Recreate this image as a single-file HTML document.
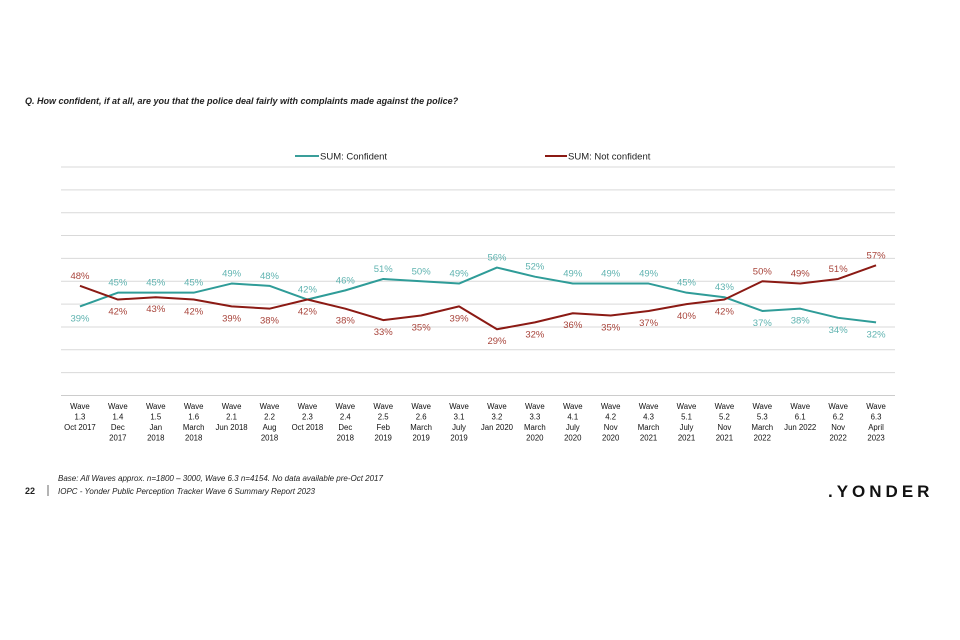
<!DOCTYPE html>
<html><head><meta charset="utf-8"><style>
body{margin:0;background:#fff;width:960px;height:640px;overflow:hidden;font-family:"Liberation Sans",Arial,sans-serif}
svg{position:absolute;left:0;top:0}
</style></head><body>
<svg width="960" height="640">
<text x="25" y="104" font-size="9" font-style="italic" font-weight="bold" fill="#222">Q. How confident, if at all, are you that the police deal fairly with complaints made against the police?</text>
<g>
<line x1="295" y1="156" x2="319" y2="156" stroke="#3a9e9a" stroke-width="2"/>
<text x="320" y="159.5" font-size="9.5" fill="#222">SUM: Confident</text>
<line x1="545" y1="156" x2="567" y2="156" stroke="#8b1a14" stroke-width="2"/>
<text x="568" y="159.5" font-size="9.5" fill="#222">SUM: Not confident</text>
</g>
<g id="grid"></g><g id="series"></g><g id="xlabels"></g>
<text x="58" y="481" font-size="8" font-style="italic" fill="#222">Base: All Waves approx. n=1800 – 3000, Wave 6.3 n=4154. No data available pre-Oct 2017</text>
<text x="25" y="494" font-size="9" font-weight="bold" fill="#222">22</text>
<line x1="48" y1="485" x2="48" y2="496" stroke="#444" stroke-width="0.8"/>
<text x="58" y="494" font-size="8" font-style="italic" fill="#222">IOPC - Yonder Public Perception Tracker Wave 6 Summary Report 2023</text>
<text x="828" y="497" font-size="17" font-weight="bold" letter-spacing="4" fill="#111">.YONDER</text>
</svg>
<script>
const categories=[["Wave","1.3","Oct 2017"],["Wave","1.4","Dec","2017"],["Wave","1.5","Jan","2018"],["Wave","1.6","March","2018"],["Wave","2.1","Jun 2018"],["Wave","2.2","Aug","2018"],["Wave","2.3","Oct 2018"],["Wave","2.4","Dec","2018"],["Wave","2.5","Feb","2019"],["Wave","2.6","March","2019"],["Wave","3.1","July","2019"],["Wave","3.2","Jan 2020"],["Wave","3.3","March","2020"],["Wave","4.1","July","2020"],["Wave","4.2","Nov","2020"],["Wave","4.3","March","2021"],["Wave","5.1","July","2021"],["Wave","5.2","Nov","2021"],["Wave","5.3","March","2022"],["Wave","6.1","Jun 2022"],["Wave","6.2","Nov","2022"],["Wave","6.3","April","2023"]];
const confident=[39,45,45,45,49,48,42,46,51,50,49,56,52,49,49,49,45,43,37,38,34,32];
const notConfident=[48,42,43,42,39,38,42,38,33,35,39,29,32,36,35,37,40,42,50,49,51,57];
const confAbove=[0,1,1,1,1,1,1,1,1,1,1,1,1,1,1,1,1,1,0,0,0,0];
const notAbove=[1,0,0,0,0,0,0,0,0,0,0,0,0,0,0,0,0,0,1,1,1,1];
const gridTicks=[0,10,20,30,40,50,60,70,80,90,100];
const L=61,R=895,Y0=395.5,PX=2.285;
const n=categories.length,band=(R-L)/n;
const xs=i=>L+band*(i+0.5), ys=v=>Y0-v*PX;
const NS="http://www.w3.org/2000/svg";
function mk(t,a,p){const e=document.createElementNS(NS,t);for(const k in a)e.setAttribute(k,a[k]);p.appendChild(e);return e;}
const grid=document.getElementById('grid');
gridTicks.forEach(t=>{const l=mk('line',{x1:L,x2:R,y1:ys(t),y2:ys(t),stroke:t===0?'#ccc':'#d9d9d9','stroke-width':1},grid);

});
const ser=document.getElementById('series');
function draw(vals,above,color,lblColor,name){
 const p=mk('polyline',{points:vals.map((v,i)=>xs(i)+','+ys(v)).join(' '),fill:'none',stroke:color,'stroke-width':2,'stroke-linejoin':'round'},ser);
 
 
 vals.forEach((v,i)=>{const t=mk('text',{x:xs(i),y:ys(v)+(above[i]?-7:15),'font-size':9.5,'text-anchor':'middle',fill:lblColor},ser);t.textContent=v+'%';
 
 });
}
draw(confident,confAbove,'#2f9c98','#5fb3b0','confident');
draw(notConfident,notAbove,'#8b1a14','#a8443b','not-confident');
const xl=document.getElementById('xlabels');
categories.forEach((c,i)=>{const t=mk('text',{'font-size':7.8,'text-anchor':'middle',fill:'#111'},xl);
 
 
 c.forEach((s,j)=>{const ts=mk('tspan',{x:xs(i),y:409+j*10.5},t);ts.textContent=s;});});
</script>
</body></html>
